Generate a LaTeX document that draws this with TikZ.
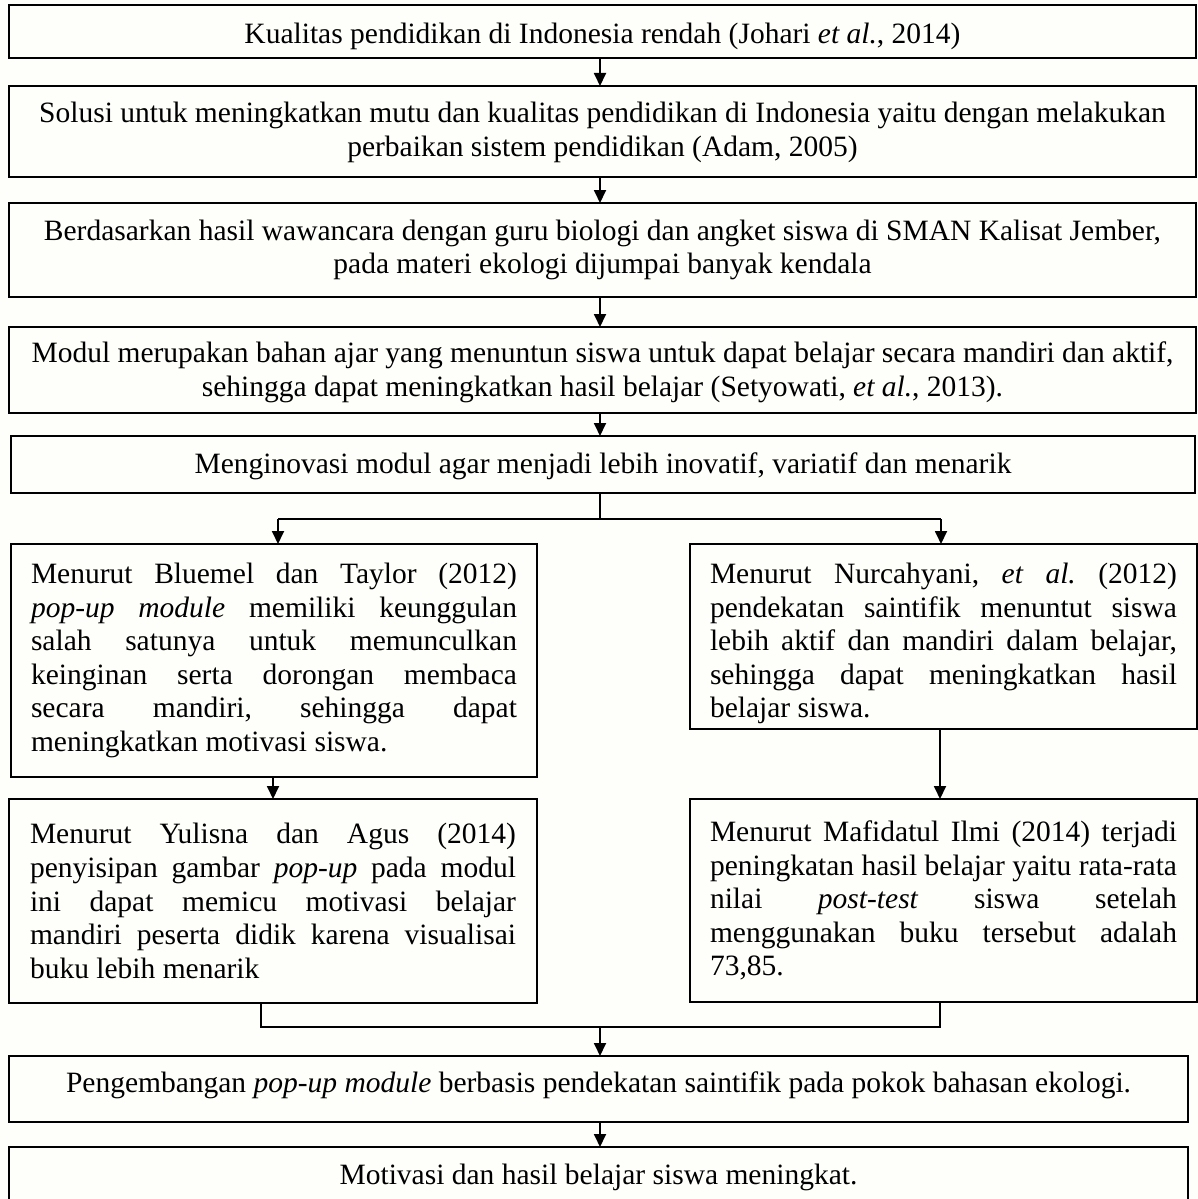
\documentclass[tikz,border=0pt]{standalone}
\usepackage{fontspec}
\setmainfont{Liberation Serif}
\usetikzlibrary{arrows.meta}
\frenchspacing
% one justified line of a fixed-width paragraph, and a natural last line
\newlength{\jw}
\newcommand{\jline}[1]{\makebox[\jw][s]{#1}\\}
\newcommand{\lastline}[1]{\makebox[\jw][l]{#1}}
% use the font's own stretchable interword space inside nodes
\newcommand{\plainspaces}{\spaceskip=0pt\xspaceskip=0pt\relax}
% invisible struts that set the height (or depth) of a text line
\newcommand{\hstrut}[1]{\rule{0pt}{#1}}
\newcommand{\dstrut}[1]{\rule[-#1]{0pt}{0pt}}
\definecolor{paper}{RGB}{254,254,250}
\begin{document}
\begin{tikzpicture}[x=1pt,y=-1pt,
  box/.style={draw, line width=1.8pt, rectangle, inner sep=0pt, outer sep=0pt,
    align=center, font=\fontsize{29.5}{33.6}\selectfont,
    execute at begin node={\plainspaces}},
  para/.style={box, text width=#1,
    execute at begin node={\plainspaces\setlength{\jw}{#1}}},
  arr/.style={line width=1.8pt, -{Triangle[width=12pt,length=13pt]}},
  ln/.style={line width=1.8pt},
]
\fill[paper] (0,0) rectangle (1198,1199);
\useasboundingbox (0,0) rectangle (1198,1199);

% main column
\node[box, minimum width=1187pt, minimum height=53pt] (b1) at (602.5,31.5)
  {\hstrut{30.5pt}Kualitas pendidikan di Indonesia rendah (Johari \textit{et al.}, 2014)};
\node[box, minimum width=1187pt, minimum height=91pt] (b2) at (602.5,131.5)
  {\hstrut{22pt}Solusi untuk meningkatkan mutu dan kualitas pendidikan di Indonesia yaitu dengan melakukan\\
   perbaikan sistem pendidikan (Adam, 2005)};
\node[box, minimum width=1187pt, minimum height=94pt] (b3) at (602.5,250)
  {Berdasarkan hasil wawancara dengan guru biologi dan angket siswa di SMAN Kalisat Jember,\\
   pada materi ekologi dijumpai banyak kendala};
\node[box, minimum width=1187pt, minimum height=86pt] (b4) at (602.5,370)
  {\hstrut{25.3pt}Modul merupakan bahan ajar yang menuntun siswa untuk dapat belajar secara mandiri dan aktif,\\
   sehingga dapat meningkatkan hasil belajar (Setyowati, \textit{et al.}, 2013).};
\node[box, minimum width=1184pt, minimum height=57pt] (b5) at (603,464.5)
  {\hstrut{24.2pt}Menginovasi modul agar menjadi lebih inovatif, variatif dan menarik};

% two branches
\node[para=486pt, minimum width=526pt, minimum height=233pt] (l1) at (274,660.5)
  {\jline{Menurut Bluemel dan Taylor (2012)}
   \jline{\textit{pop-up module} memiliki keunggulan}
   \jline{salah satunya untuk memunculkan}
   \jline{keinginan serta dorongan membaca}
   \jline{secara mandiri, sehingga dapat}
   \lastline{meningkatkan motivasi siswa.}};
\node[para=467pt, minimum width=507pt, minimum height=185pt] (r1) at (943.5,636.5)
  {\jline{\hstrut{34.5pt}Menurut Nurcahyani, \textit{et al.} (2012)}
   \jline{pendekatan saintifik menuntut siswa}
   \jline{lebih aktif dan mandiri dalam belajar,}
   \jline{sehingga dapat meningkatkan hasil}
   \lastline{belajar siswa.}};
\node[para=486pt, minimum width=528pt, minimum height=204pt] (l2) at (273,901)
  {\jline{Menurut Yulisna dan Agus (2014)}
   \jline{penyisipan gambar \textit{pop-up} pada modul}
   \jline{ini dapat memicu motivasi belajar}
   \jline{mandiri peserta didik karena visualisai}
   \lastline{buku lebih menarik}};
\node[para=467pt, minimum width=507pt, minimum height=203pt] (r2) at (943.5,900.5)
  {\jline{Menurut Mafidatul Ilmi (2014) terjadi}
   \jline{peningkatan hasil belajar yaitu rata-rata}
   \jline{nilai \textit{post-test} siswa setelah}
   \jline{menggunakan buku tersebut adalah}
   \lastline{73,85.}};

% conclusion
\node[box, minimum width=1179pt, minimum height=66pt] (b6) at (598.5,1089)
  {\dstrut{14.4pt}Pengembangan \textit{pop-up module} berbasis pendekatan saintifik pada pokok bahasan ekologi.};
\node[box, minimum width=1179pt, minimum height=66pt] (b7) at (598.5,1180)
  {\dstrut{12.4pt}Motivasi dan hasil belajar siswa meningkat.};

% guide coordinates for the connectors
\coordinate (mx) at (600,0);
\coordinate (split) at (600,519);
\coordinate (sl) at (278,519);
\coordinate (sr) at (941,519);
\coordinate (ml) at (273,0);
\coordinate (jl) at (261,1027);
\coordinate (jr) at (940,1027);
\coordinate (jm) at (600,1027);

\draw[arr] (b1.south -| mx) -- (b2.north -| mx);
\draw[arr] (b2.south -| mx) -- (b3.north -| mx);
\draw[arr] (b3.south -| mx) -- (b4.north -| mx);
\draw[arr] (b4.south -| mx) -- (b5.north -| mx);

\draw[ln] (b5.south -| mx) -- (split);
\draw[ln] (sl) -- (sr);
\draw[arr] (sl) -- (l1.north -| sl);
\draw[arr] (sr) -- (r1.north -| sr);

\draw[arr] (l1.south -| ml) -- (l2.north -| ml);
\draw[arr] (r1.south -| jr) -- (r2.north -| jr);

\draw[ln] (l2.south -| jl) -- (jl) -- (jr) -- (r2.south -| jr);
\draw[arr] (jm) -- (b6.north -| jm);
\draw[arr] (b6.south -| mx) -- (b7.north -| mx);
\end{tikzpicture}
\end{document}
